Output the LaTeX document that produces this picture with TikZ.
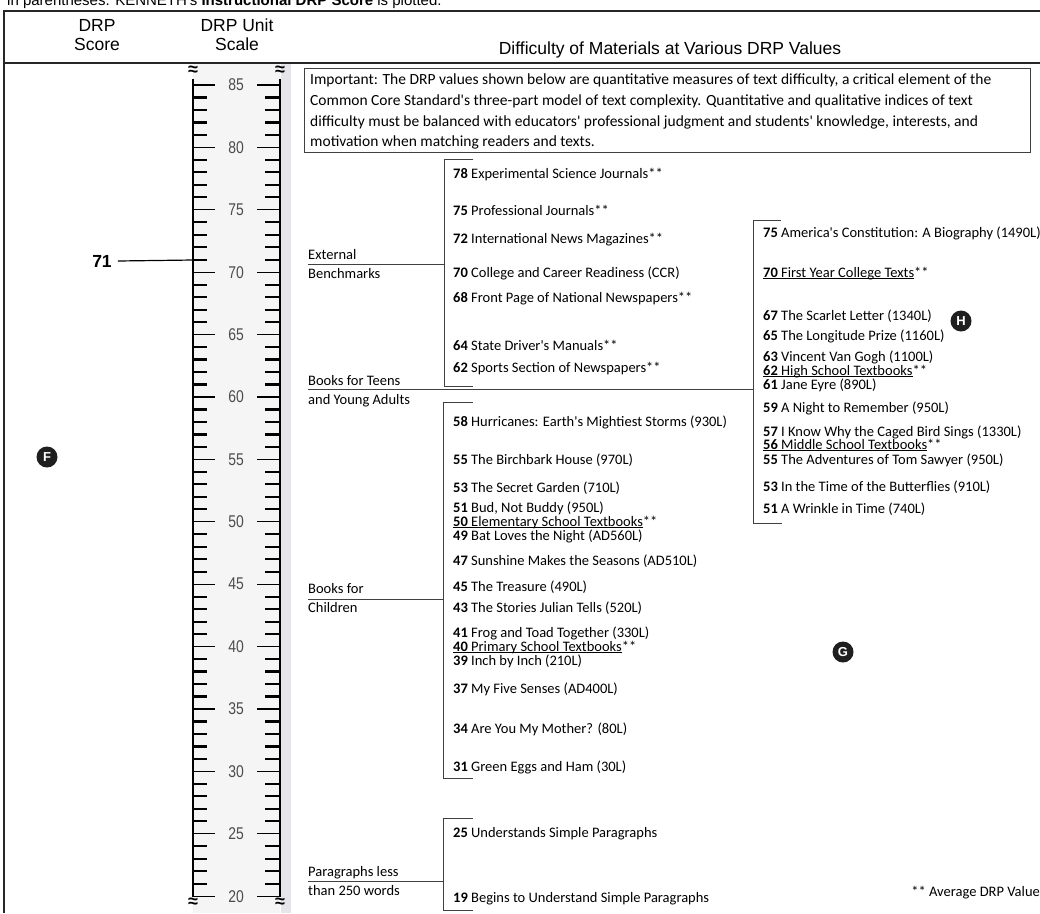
\documentclass[tikz,border=0pt]{standalone}
\usepackage{fontspec}
\setmainfont{Carlito}
\newfontfamily\arialf{Liberation Sans}
\newfontfamily\narrowf[FakeStretch=0.82]{Liberation Sans}
\newcommand\myq{\textquotesingle}
\newcommand\myul[1]{\setbox0\hbox{#1}\rlap{\rule[-1.9pt]{\wd0}{0.8pt}}\box0}
\begin{document}
\begin{tikzpicture}[x=1pt,y=-1pt,
  itm/.style={anchor=base west,inner sep=0pt,font=\fontsize{14.5}{16}\selectfont},
  grp/.style={anchor=base west,inner sep=0pt,font=\fontsize{14.5}{16}\selectfont},
  impl/.style={anchor=base west,inner sep=0pt,font=\fontsize{15.5}{17}\selectfont},
  hdr/.style={align=center,inner sep=0pt,font=\arialf\fontsize{17.5}{19}\selectfont},
  rlab/.style={inner sep=0pt,text=black!70,font=\narrowf\fontsize{17}{17}\selectfont},
  badge/.style={circle,fill=black!88,text=white,minimum size=21pt,inner sep=0pt,font=\arialf\bfseries\fontsize{13}{13}\selectfont},
  ln/.style={line width=1pt,black!75},
  frame/.style={line width=2pt,black!85},
  brk/.style={inner sep=0pt,font=\arialf\bfseries\fontsize{18}{18}\selectfont}
]
\useasboundingbox (0,0) rectangle (1040,913);
% top cut text
\node[anchor=base west,inner sep=0pt,font=\arialf\fontsize{15}{15}\selectfont] (topline) at (7,5) {in parentheses. KENNETH\myq s \textbf{Instructional DRP Score} is plotted.};
% frame
\draw[frame] (4,913) -- (4,11) -- (1040,11);
\draw[line width=2.5pt,black!85] (4,63) -- (1040,63);
% headers
\node[hdr] (hscore) at (97,35) {DRP\\Score};
\node[hdr] (hunit) at (237,35) {DRP Unit\\Scale};
\node[hdr] (hdiff) at (670,50) {Difficulty of Materials at Various DRP Values};
% ruler
\fill[black!4] (193,64) rectangle (280,913);
\fill[blue!10!gray!18] (281,64) rectangle (291,913);
\draw[line width=2pt] (193,79) -- (193,897);
\draw[line width=2pt] (280,79) -- (280,897);
\node[brk] (bz1) at (193,71) {≈};
\node[brk] (bz2) at (280,71) {≈};
\node[brk] (bz3) at (193,903) {≈};
\node[brk] (bz4) at (280,903) {≈};
\foreach \v in {20,...,85}{
  \pgfmathsetmacro{\yy}{85+12.48*(85-\v)}
  \pgfmathtruncatemacro{\mm}{mod(\v,5)}
  \ifnum\mm=0
    \draw[line width=1.3pt] (193,\yy) -- (215,\yy);
    \draw[line width=1.3pt] (257,\yy) -- (280,\yy);
    \node[rlab] (r\v) at (236,\yy) {\v};
  \else
    \draw[line width=2.2pt] (193,\yy) -- (207,\yy);
    \draw[line width=2.2pt] (265,\yy) -- (280,\yy);
  \fi
}
% score marker
\node[inner sep=0pt,font=\arialf\bfseries\fontsize{17.5}{17.5}\selectfont] (s71) at (102,261) {71};
\coordinate (c71) at (193,260);
\draw[line width=1.2pt] (s71.east) ++(6pt,0) -- (c71);
% badges
\node[badge] (bF) at (47,457) {F};
\node[badge] (bH) at (961,321) {H};
\node[badge] (bG) at (843,652) {G};
% important box
\draw[line width=1pt,black!75] (304,68) rectangle (1030,152);
\node[impl] (imp1) at (310,84) {Important: The DRP values shown below are quantitative measures of text difficulty, a critical element of the};
\node[impl] (imp2) at (310,105) {Common Core Standard\myq s three-part model of text complexity. Quantitative and qualitative indices of text};
\node[impl] (imp3) at (310,126) {difficulty must be balanced with educators\myq{} professional judgment and students\myq{} knowledge, interests, and};
\node[impl] (imp4) at (310,146) {motivation when matching readers and texts.};
% group labels and lines
\node[grp] (gExt1) at (308,259) {External};
\node[grp] (gExt2) at (308,278) {Benchmarks};
\draw[ln] (308,264) -- (444,264);
\node[grp] (gTeen1) at (308,385) {Books for Teens};
\node[grp] (gTeen2) at (308,404) {and Young Adults};
\draw[ln] (308,389) -- (753,389);
\node[grp] (gCh1) at (308,593) {Books for};
\node[grp] (gCh2) at (308,612) {Children};
\draw[ln] (308,599) -- (443,599);
\node[grp] (gPa1) at (308,876) {Paragraphs less};
\node[grp] (gPa2) at (308,895) {than 250 words};
\draw[ln] (308,881) -- (443,881);
% brackets
\draw[ln] (473,159) -- (444,159) -- (444,386) -- (473,386);
\draw[ln] (781,220) -- (753,220) -- (753,523) -- (782,523);
\draw[ln] (473,402) -- (443,402) -- (443,778) -- (473,778);
\draw[ln] (473,818) -- (443,818) -- (443,910) -- (473,910);
% external items
\node[itm] (e78) at (453,178) {\textbf{78} Experimental Science Journals**};
\node[itm] (e75) at (453,215) {\textbf{75} Professional Journals**};
\node[itm] (e72) at (453,243) {\textbf{72} International News Magazines**};
\node[itm] (e70) at (453,277) {\textbf{70} College and Career Readiness (CCR)};
\node[itm] (e68) at (453,302) {\textbf{68} Front Page of National Newspapers**};
\node[itm] (e64) at (453,350) {\textbf{64} State Driver\myq s Manuals**};
\node[itm] (e62) at (453,372) {\textbf{62} Sports Section of Newspapers**};
% teen items
\node[itm] (t75) at (763,237) {\textbf{75} America\myq s Constitution: A Biography (1490L)};
\node[itm] (t70) at (763,277) {\myul{\textbf{70} First Year College Texts}**};
\node[itm] (t67) at (763,320) {\textbf{67} The Scarlet Letter (1340L)};
\node[itm] (t65) at (763,340) {\textbf{65} The Longitude Prize (1160L)};
\node[itm] (t63) at (763,361) {\textbf{63} Vincent Van Gogh (1100L)};
\node[itm] (t62) at (763,375) {\myul{\textbf{62} High School Textbooks}**};
\node[itm] (t61) at (763,389) {\textbf{61} Jane Eyre (890L)};
\node[itm] (t59) at (763,412) {\textbf{59} A Night to Remember (950L)};
\node[itm] (t57) at (763,436) {\textbf{57} I Know Why the Caged Bird Sings (1330L)};
\node[itm] (t56) at (763,449) {\myul{\textbf{56} Middle School Textbooks}**};
\node[itm] (t55) at (763,464) {\textbf{55} The Adventures of Tom Sawyer (950L)};
\node[itm] (t53) at (763,491) {\textbf{53} In the Time of the Butterflies (910L)};
\node[itm] (t51) at (763,513) {\textbf{51} A Wrinkle in Time (740L)};
% children items
\node[itm] (c58) at (453,426) {\textbf{58} Hurricanes: Earth\myq s Mightiest Storms (930L)};
\node[itm] (c55) at (453,464) {\textbf{55} The Birchbark House (970L)};
\node[itm] (c53) at (453,492) {\textbf{53} The Secret Garden (710L)};
\node[itm] (c51) at (453,512) {\textbf{51} Bud, Not Buddy (950L)};
\node[itm] (c50) at (453,526) {\myul{\textbf{50} Elementary School Textbooks}**};
\node[itm] (c49) at (453,540) {\textbf{49} Bat Loves the Night (AD560L)};
\node[itm] (c47) at (453,565) {\textbf{47} Sunshine Makes the Seasons (AD510L)};
\node[itm] (c45) at (453,591) {\textbf{45} The Treasure (490L)};
\node[itm] (c43) at (453,612) {\textbf{43} The Stories Julian Tells (520L)};
\node[itm] (c41) at (453,637) {\textbf{41} Frog and Toad Together (330L)};
\node[itm] (c40) at (453,651) {\myul{\textbf{40} Primary School Textbooks}**};
\node[itm] (c39) at (453,665) {\textbf{39} Inch by Inch (210L)};
\node[itm] (c37) at (453,693) {\textbf{37} My Five Senses (AD400L)};
\node[itm] (c34) at (453,733) {\textbf{34} Are You My Mother? (80L)};
\node[itm] (c31) at (453,771) {\textbf{31} Green Eggs and Ham (30L)};
% paragraph items
\node[itm] (p25) at (453,837) {\textbf{25} Understands Simple Paragraphs};
\node[itm] (p19) at (453,902) {\textbf{19} Begins to Understand Simple Paragraphs};
% footnote
\node[anchor=base east,inner sep=0pt,font=\fontsize{14.5}{16}\selectfont] (avg) at (1040,896) {** Average DRP Value};
\end{tikzpicture}
\end{document}
